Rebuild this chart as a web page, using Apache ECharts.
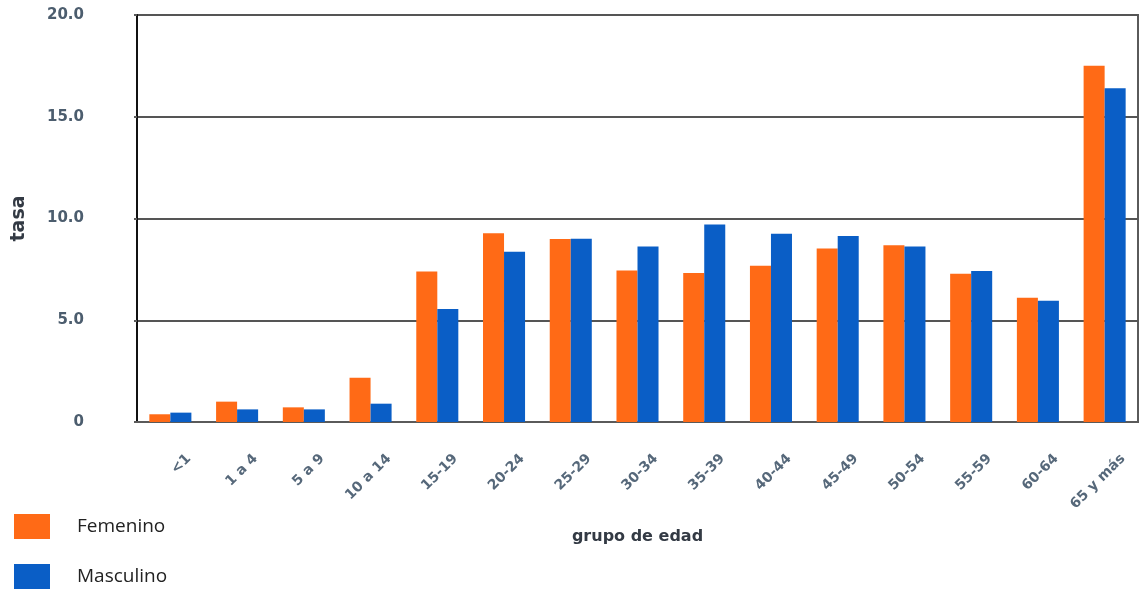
<!DOCTYPE html>
<html>
<head>
<meta charset="utf-8">
<script src="https://cdn.jsdelivr.net/npm/echarts@6/dist/echarts.min.js"></script>
<style>
  html, body { margin: 0; padding: 0; background: #fff; }
  #main { width: 1140px; height: 591px; }
</style>
</head>
<body>
<div id="main"></div>
<script>
const categories = ['<1', '1 a 4', '5 a 9', '10 a 14', '15-19', '20-24', '25-29', '30-34',
  '35-39', '40-44', '45-49', '50-54', '55-59', '60-64', '65 y más']
const femenino = [0.38, 1.0, 0.72, 2.18, 7.39, 9.27, 8.99, 7.45, 7.32, 7.68, 8.52, 8.68, 7.29, 6.11, 17.51]
const masculino = [0.46, 0.62, 0.62, 0.9, 5.55, 8.37, 9.01, 8.63, 9.71, 9.25, 9.14, 8.62, 7.42, 5.96, 16.4]
const yTicks = [0, 5, 10, 15, 20]

const chart = echarts.init(document.getElementById('main'))

const option = {
  animation: false,
  backgroundColor: '#fff',
  grid: {
    left: 137,
    right: 2,
    top: 15,
    bottom: 169,
    show: true,
    borderColor: '#5a5a5a',
    borderWidth: 2
  },
  legend: {
    orient: 'vertical',
    left: 14,
    top: 514,
    padding: 0,
    icon: 'rect',
    itemWidth: 36,
    itemHeight: 25,
    itemGap: 25,
    textStyle: {
      fontFamily: 'Open Sans',
      fontSize: 19,
      color: '#222',
      padding: [0, 0, 0, 22]
    },
    data: ['Femenino', 'Masculino']
  },
  xAxis: {
    type: 'category',
    data: categories,
    name: 'grupo de edad',
    nameLocation: 'middle',
    nameGap: 107,
    nameTextStyle: {
      fontFamily: 'DejaVu Sans',
      fontWeight: 'bold',
      fontSize: 16,
      color: '#333a44'
    },
    axisLine: { lineStyle: { color: '#5a5a5a', width: 2 } },
    axisTick: { show: false },
    axisLabel: {
      rotate: 45,
      margin: 53,
      interval: 0,
      padding: [0, -26, 0, 0],
      fontFamily: 'DejaVu Sans',
      fontWeight: 'bold',
      fontSize: 14,
      color: '#56687a'
    }
  },
  yAxis: {
    type: 'value',
    min: yTicks[0],
    max: yTicks[yTicks.length - 1],
    interval: 5,
    name: 'tasa',
    nameLocation: 'middle',
    nameRotate: 90,
    nameGap: 108,
    nameTextStyle: {
      fontFamily: 'DejaVu Sans',
      fontWeight: 'bold',
      fontSize: 19,
      color: '#333a44'
    },
    axisLine: { show: true, lineStyle: { color: '#111', width: 2 } },
    axisTick: { show: true, length: 3, lineStyle: { color: '#5a5a5a', width: 2 } },
    axisLabel: {
      margin: 53,
      fontFamily: 'DejaVu Sans',
      fontWeight: 'bold',
      fontSize: 15,
      color: '#4c5d6e',
      formatter: v => (v === 0 ? '0' : v.toFixed(1))
    },
    splitLine: { show: true, lineStyle: { color: '#555', width: 2 } }
  },
  series: [
    {
      name: 'Femenino',
      type: 'bar',
      data: femenino,
      barGap: '0%',
      barCategoryGap: '37%',
      itemStyle: { color: '#ff6a16' }
    },
    {
      name: 'Masculino',
      type: 'bar',
      data: masculino,
      itemStyle: { color: '#0a5ec6' }
    }
  ]
}

chart.setOption(option)
</script>
</body>
</html>
